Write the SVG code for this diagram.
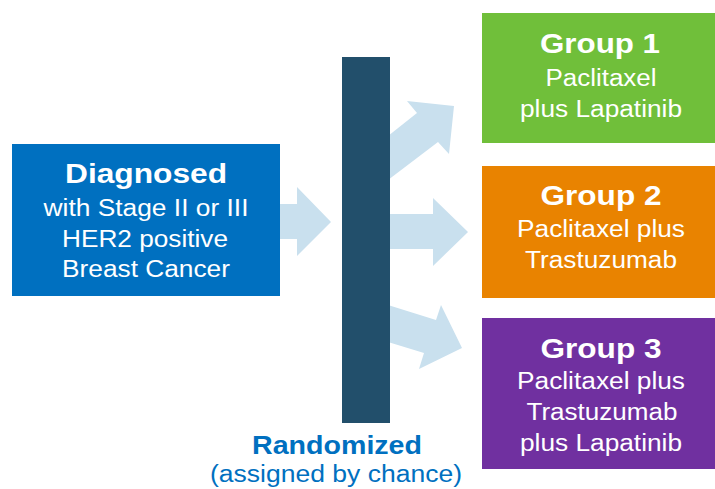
<svg xmlns="http://www.w3.org/2000/svg" width="715" height="489" viewBox="0 0 715 489">
<style>
.t{font-family:"Liberation Sans",Arial,sans-serif;fill:#fff;text-anchor:middle}
.h{font-size:28px;font-weight:bold}
.b{font-size:23px}
.arr{fill:#c9e0ee}
.lab{font-family:"Liberation Sans",Arial,sans-serif;fill:#0070c0;text-anchor:middle}
</style>
<rect width="715" height="489" fill="#fff"/>
<g id="connectors">
<polygon class="arr" points="278,204 297,204 297,187 331,222 297,256 297,239 278,239"/>
<polygon class="arr" points="388,214 433,214 433,198 468,232 433,266 433,249 388,249"/>
<polygon class="arr" points="388,136 417,113 407,101 454,106 449,154 438,142 388,180"/>
<polygon class="arr" points="388,305 436,320 441,305 462,348 419,369 424,353 388,342"/>
</g>
<g id="randomized">
<rect x="342" y="57" width="48" height="366" fill="#224f6b"/>
<text class="lab" x="337" y="454" font-size="26" font-weight="bold" textLength="170" lengthAdjust="spacingAndGlyphs">Randomized</text>
<text class="lab" x="336" y="482" font-size="23" textLength="252" lengthAdjust="spacingAndGlyphs">(assigned by chance)</text>
</g>
<g id="diagnosed">
<rect x="12" y="144" width="268" height="152" fill="#0070c0"/>
<text class="t h" x="146" y="183" textLength="162" lengthAdjust="spacingAndGlyphs">Diagnosed</text>
<text class="t b" x="146" y="216" textLength="205" lengthAdjust="spacingAndGlyphs">with Stage II or III</text>
<text class="t b" x="145" y="247" textLength="166" lengthAdjust="spacingAndGlyphs">HER2 positive</text>
<text class="t b" x="146" y="277" textLength="168" lengthAdjust="spacingAndGlyphs">Breast Cancer</text>
</g>
<g id="group1">
<rect x="482" y="13" width="233" height="130" fill="#70bf3a"/>
<text class="t h" x="600" y="53" textLength="120" lengthAdjust="spacingAndGlyphs">Group 1</text>
<text class="t b" x="601" y="86" textLength="111" lengthAdjust="spacingAndGlyphs">Paclitaxel</text>
<text class="t b" x="601" y="117" textLength="162" lengthAdjust="spacingAndGlyphs">plus Lapatinib</text>
</g>
<g id="group2">
<rect x="482" y="166" width="233" height="132" fill="#e98300"/>
<text class="t h" x="601" y="205" textLength="121" lengthAdjust="spacingAndGlyphs">Group 2</text>
<text class="t b" x="601" y="237" textLength="168" lengthAdjust="spacingAndGlyphs">Paclitaxel plus</text>
<text class="t b" x="601" y="268" textLength="152" lengthAdjust="spacingAndGlyphs">Trastuzumab</text>
</g>
<g id="group3">
<rect x="482" y="318" width="233" height="151" fill="#7030a0"/>
<text class="t h" x="601" y="358" textLength="121" lengthAdjust="spacingAndGlyphs">Group 3</text>
<text class="t b" x="601" y="389" textLength="168" lengthAdjust="spacingAndGlyphs">Paclitaxel plus</text>
<text class="t b" x="602" y="420" textLength="151" lengthAdjust="spacingAndGlyphs">Trastuzumab</text>
<text class="t b" x="601" y="451" textLength="162" lengthAdjust="spacingAndGlyphs">plus Lapatinib</text>
</g>
</svg>
